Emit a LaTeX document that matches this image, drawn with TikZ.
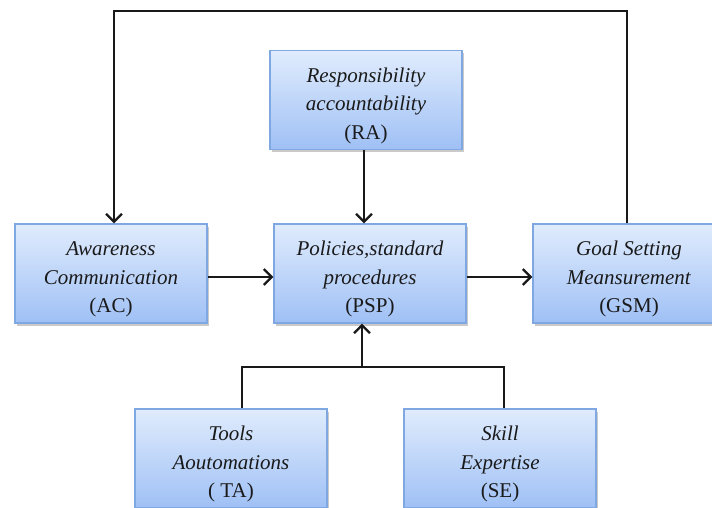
\documentclass[tikz,border=0pt]{standalone}
\usepackage{fontspec}
\setmainfont{Liberation Serif}
\usetikzlibrary{arrows.meta,shadows}
\definecolor{boxtop}{HTML}{E0ECFD}
\definecolor{boxbot}{HTML}{9FC0F5}
\definecolor{boxline}{HTML}{7FA7E2}
\definecolor{inktext}{HTML}{1A1A1A}
\tikzset{
  x=1pt, y=-1pt,
  blockbox/.style={
    draw=boxline, line width=1.2pt,
    top color=boxtop, bottom color=boxbot,
    minimum width=192pt, minimum height=99pt,
    inner sep=0pt, text=inktext,
    font=\fontsize{21}{28.5}\selectfont,
    drop shadow={shadow xshift=2pt, shadow yshift=-2.5pt, opacity=0.35, fill=black!60}
  },
  link/.style={line width=2.3pt, black!90},
  arr/.style={link, -{Straight Barb[length=8pt,width=16pt,line width=2.3pt]}}
}
% three centred lines, the first two in italics, inked a little below the box middle
\newcommand{\threelines}[3]{\raisebox{-5pt}[\height][\depth]{\begin{tabular}{@{}c@{}}\textit{#1}\\\textit{#2}\\#3\end{tabular}}}
\begin{document}
\begin{tikzpicture}
\useasboundingbox (0,0) rectangle (712,507);

\node[blockbox] (RA)  at (366,100)   {\threelines{Responsibility}{accountability}{(RA)}};
\node[blockbox] (AC)  at (111,273.5) {\threelines{Awareness}{Communication}{(AC)}};
\node[blockbox] (PSP) at (370,273.5) {\threelines{Policies,standard}{procedures}{(PSP)}};
\node[blockbox] (GSM) at (629,273.5) {\threelines{Goal Setting}{Meansurement}{(GSM)}};
\node[blockbox] (TA)  at (231,458.5) {\threelines{Tools}{Aoutomations}{( TA)}};
\node[blockbox] (SE)  at (500,458.5) {\threelines{Skill}{Expertise}{(SE)}};

% feedback loop from goal setting back to awareness
\coordinate (gsmout) at ([xshift=-2pt]GSM.north);
\coordinate (acin)   at ([xshift=3pt]AC.north);
\draw[arr] (gsmout) -- (gsmout |- 0,11) -- (acin |- 0,11) -- (acin);

% main flow
\draw[arr] (RA.south -| 364,0) -- (PSP.north -| 364,0);
\draw[arr] (AC.east |- 0,277) -- (PSP.west |- 0,277);
\draw[arr] (PSP.east |- 0,277) -- (GSM.west |- 0,277);

% supporting inputs from below
\coordinate (taout) at ([xshift=11pt]TA.north);
\coordinate (seout) at ([xshift=4pt]SE.north);
\coordinate (join)  at (362,367);
\draw[link] (taout) -- (taout |- join) -- (seout |- join) -- (seout);
\draw[arr] (join) -- (join |- PSP.south);
\end{tikzpicture}
\end{document}
